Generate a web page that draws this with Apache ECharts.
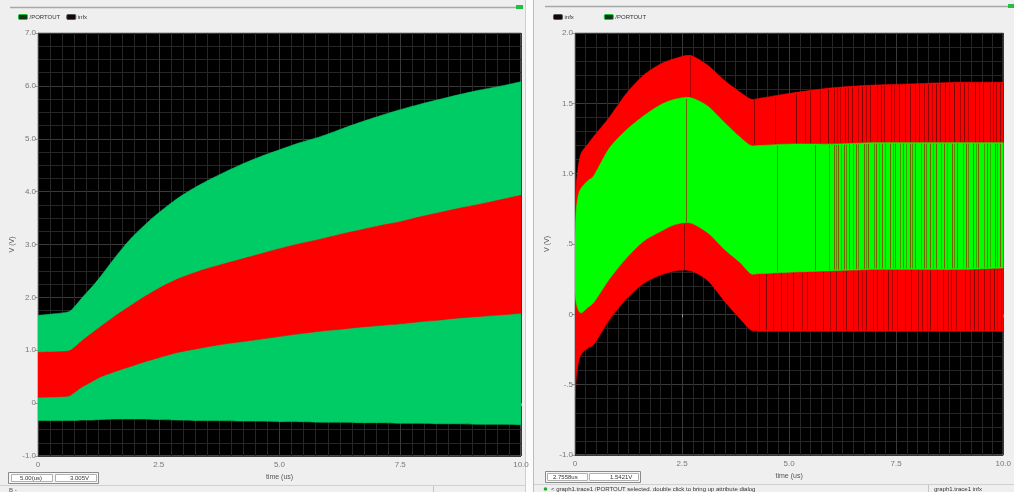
<!DOCTYPE html>
<html>
<head>
<meta charset="utf-8">
<script src="https://cdn.jsdelivr.net/npm/echarts@6/dist/echarts.min.js"></script>
<style>
  html, body { margin: 0; padding: 0; background: #efefef; }
  #chart { width: 1014px; height: 492px; }
</style>
</head>
<body>
<div id="chart"></div>
<script>
// ---- Left graph: /PORTOUT (green) and infx (red) envelopes, time in us ----
const timeA    = [0, 0.6, 0.75, 0.9, 1.1, 1.3, 1.6, 1.9, 2.2, 2.5, 2.9, 3.35, 3.8, 4.2, 4.6, 5.0, 5.4, 5.85, 6.3, 6.7, 7.1, 7.5, 7.9, 8.3, 8.7, 9.15, 9.6, 10];
const portHiA  = [1.66, 1.72, 1.82, 1.98, 2.18, 2.40, 2.76, 3.09, 3.36, 3.60, 3.88, 4.13, 4.34, 4.51, 4.66, 4.79, 4.92, 5.04, 5.19, 5.32, 5.44, 5.55, 5.65, 5.74, 5.83, 5.92, 6.00, 6.08];
const portLoA  = [-0.33, -0.33, -0.33, -0.32, -0.32, -0.31, -0.30, -0.30, -0.30, -0.31, -0.32, -0.33, -0.33, -0.34, -0.34, -0.35, -0.35, -0.36, -0.36, -0.37, -0.37, -0.38, -0.38, -0.39, -0.39, -0.40, -0.40, -0.41];
const infxHiA  = [0.96, 0.98, 1.05, 1.17, 1.31, 1.45, 1.65, 1.83, 2.01, 2.17, 2.35, 2.50, 2.62, 2.72, 2.82, 2.92, 3.01, 3.10, 3.20, 3.28, 3.36, 3.43, 3.52, 3.60, 3.68, 3.76, 3.85, 3.93];
const infxLoA  = [0.11, 0.13, 0.20, 0.30, 0.40, 0.50, 0.60, 0.69, 0.78, 0.86, 0.96, 1.04, 1.11, 1.16, 1.21, 1.26, 1.31, 1.36, 1.40, 1.44, 1.47, 1.50, 1.54, 1.57, 1.61, 1.64, 1.67, 1.70];

// ---- Right graph: infx (red, outer) and /PORTOUT (green, inner) envelopes ----
const timeB    = [0, 0.03, 0.08, 0.15, 0.3, 0.45, 0.8, 1.2, 1.6, 2.0, 2.35, 2.7, 3.1, 3.5, 3.85, 4.1, 4.3, 5, 6, 7, 8, 9, 10];
const infxHiB  = [0.70, 0.92, 1.06, 1.15, 1.21, 1.27, 1.40, 1.57, 1.70, 1.78, 1.82, 1.84, 1.77, 1.66, 1.58, 1.53, 1.535, 1.57, 1.61, 1.63, 1.64, 1.65, 1.65];
const portHiB  = [0.55, 0.74, 0.85, 0.90, 0.95, 0.99, 1.18, 1.31, 1.41, 1.49, 1.53, 1.54, 1.48, 1.36, 1.26, 1.20, 1.20, 1.21, 1.21, 1.22, 1.22, 1.22, 1.22];
const portLoB  = [0.15, 0.08, 0.03, 0.01, 0.05, 0.09, 0.25, 0.40, 0.52, 0.59, 0.64, 0.65, 0.58, 0.46, 0.37, 0.29, 0.29, 0.30, 0.31, 0.32, 0.32, 0.32, 0.33];
const infxLoB  = [-0.60, -0.45, -0.34, -0.28, -0.24, -0.21, -0.04, 0.11, 0.22, 0.28, 0.31, 0.31, 0.24, 0.09, -0.03, -0.11, -0.12, -0.12, -0.12, -0.12, -0.12, -0.12, -0.12];

// glitch times (us) seen as thin vertical streaks on the right graph
const upperGlitchT = [2.68, 4.17, 4.67, 5.16, 5.36, 5.48, 5.71, 5.90, 6.06, 6.13, 6.20, 6.30, 6.37, 6.48, 6.60, 6.71, 6.80, 6.90, 7.06, 7.14, 7.22, 7.37, 7.46, 7.56, 7.71, 7.83, 7.93, 8.03, 8.14, 8.24, 8.33, 8.43, 8.52, 8.64, 8.74, 8.84, 8.99, 9.08, 9.18, 9.33, 9.43, 9.53, 9.68, 9.76, 9.84, 9.92, 9.99];
const lowerGlitchT = [2.55, 4.30, 4.45, 4.62, 4.80, 4.95, 5.10, 5.30, 5.42, 5.60, 5.78, 5.95, 6.10, 6.25, 6.33, 6.50, 6.62, 6.70, 6.80, 6.95, 7.05, 7.20, 7.30, 7.40, 7.52, 7.70, 7.85, 8.00, 8.10, 8.22, 8.30, 8.45, 8.60, 8.70, 8.78, 8.90, 9.10, 9.22, 9.32, 9.40, 9.55, 9.70, 9.78, 9.85, 9.95];
const midGlitchT   = [2.60, 4.72, 5.60, 5.92, 6.05, 6.10, 6.15, 6.22, 6.28, 6.34, 6.40, 6.50, 6.56, 6.62, 6.75, 6.80, 6.85, 6.98, 7.04, 7.10, 7.18, 7.25, 7.35, 7.42, 7.48, 7.60, 7.66, 7.72, 7.82, 7.88, 7.95, 8.08, 8.14, 8.20, 8.30, 8.36, 8.42, 8.55, 8.62, 8.68, 8.80, 8.86, 8.92, 9.05, 9.12, 9.18, 9.30, 9.36, 9.42, 9.55, 9.62, 9.68, 9.80, 9.86, 9.92];

// axis tick labels
const xTicks  = [0, 2.5, 5, 7.5, 10];
const yTicksA = [-1, 0, 1, 2, 3, 4, 5, 6, 7];
const yTicksB = [-1, -0.5, 0, 0.5, 1, 1.5, 2];

const GREEN_A = '#00cc66';
const GREEN_B = '#00ff00';
const RED = '#ff0000';
const FONT = 'Liberation Sans, DejaVu Sans, sans-serif';

// edge value at time t, used to size glitch streaks inside a band
function edgeAt(ts, vs, t) {
  for (let i = 1; i < ts.length; i++) {
    if (t <= ts[i]) {
      const f = (t - ts[i - 1]) / (ts[i] - ts[i - 1]);
      return vs[i - 1] + f * (vs[i] - vs[i - 1]);
    }
  }
  return vs[vs.length - 1];
}

// cubic segments through pixel points (Catmull-Rom, softened), as SVG path commands
function curveCmds(pts, k) {
  let d = '';
  for (let i = 0; i < pts.length - 1; i++) {
    const p0 = pts[Math.max(i - 1, 0)], p1 = pts[i], p2 = pts[i + 1], p3 = pts[Math.min(i + 2, pts.length - 1)];
    const c1x = p1[0] + (p2[0] - p0[0]) * k / 6, c1y = p1[1] + (p2[1] - p0[1]) * k / 6;
    const c2x = p2[0] - (p3[0] - p1[0]) * k / 6, c2y = p2[1] - (p3[1] - p1[1]) * k / 6;
    d += ` C${c1x.toFixed(2)},${c1y.toFixed(2)} ${c2x.toFixed(2)},${c2y.toFixed(2)} ${p2[0].toFixed(2)},${p2[1].toFixed(2)}`;
  }
  return d;
}

// filled band between lo and hi, one path built from every sample
function band(grid, ts, lo, hi, name, color, z) {
  return {
    type: 'custom', name, xAxisIndex: grid, yAxisIndex: grid, z, silent: true,
    animation: false, clip: true,
    data: ts.map((t, i) => [t, lo[i], hi[i]]),
    encode: { x: 0, y: [1, 2] },
    renderItem(params, api) {
      if (params.dataIndexInside !== 0) return null;
      const n = params.dataInsideLength;
      const top = [], bottom = [];
      for (let j = 0; j < n; j++) {
        const t = api.value(0, j);
        top.push(api.coord([t, api.value(2, j)]));
        bottom.push(api.coord([t, api.value(1, j)]));
      }
      bottom.reverse();
      const d = `M${top[0][0]},${top[0][1]}` + curveCmds(top, 0.8) +
        ` L${bottom[0][0]},${bottom[0][1]}` + curveCmds(bottom, 0.8) + ' Z';
      return {
        type: 'path',
        shape: { pathData: d },
        style: { fill: color, stroke: color, lineWidth: 0.6 }
      };
    }
  };
}

function streaks(grid, name, times, loArr, hiArr, colors, z) {
  return {
    type: 'custom', name, xAxisIndex: grid, yAxisIndex: grid, silent: true, z,
    animation: false,
    data: times.map(t => [t, edgeAt(timeB, loArr, t), edgeAt(timeB, hiArr, t)]),
    encode: { x: 0, y: [1, 2] },
    renderItem(params, api) {
      const p0 = api.coord([api.value(0), api.value(1)]);
      const p1 = api.coord([api.value(0), api.value(2)]);
      const x = Math.round(p0[0]) + 0.5;
      return {
        type: 'line',
        shape: { x1: x, y1: p0[1] - 1, x2: x, y2: p1[1] + 1 },
        style: { stroke: colors[params.dataIndex % colors.length], lineWidth: 1 }
      };
    }
  };
}

const fmtX = v => (v === 0 ? '0' : v.toFixed(1));
const fmtYA = v => (v === 0 ? '0' : v.toFixed(1));
const fmtYB = v => {
  if (v === 0) return '0';
  if (Math.abs(v) < 1) return (v < 0 ? '-' : '') + '.' + Math.round(Math.abs(v) * 10);
  return v.toFixed(1);
};

function xAxisFor(grid) {
  return {
    gridIndex: grid, type: 'value', min: xTicks[0], max: xTicks[xTicks.length - 1],
    interval: xTicks[1] - xTicks[0],
    name: 'time (us)', nameLocation: 'middle', nameGap: 17,
    nameTextStyle: { fontSize: 7, color: '#555', fontFamily: FONT },
    axisLine: { show: false },
    axisTick: { show: true, length: 3, lineStyle: { color: '#999' } },
    axisLabel: { fontSize: 8, color: '#777', margin: 5, formatter: fmtX, fontFamily: FONT },
    splitLine: { show: true, lineStyle: { color: '#3a3a3a', width: 1 } },
    minorTick: { show: false, splitNumber: 10 },
    minorSplitLine: { show: true, lineStyle: { color: '#262626', width: 1 } }
  };
}

function yAxisFor(grid, ticks, fmt, minorSplit, gap) {
  return {
    gridIndex: grid, type: 'value', min: ticks[0], max: ticks[ticks.length - 1],
    interval: ticks[1] - ticks[0],
    name: 'V (V)', nameLocation: 'middle', nameGap: gap, nameRotate: 90,
    nameTextStyle: { fontSize: 7, color: '#555', fontFamily: FONT },
    axisLine: { show: false },
    axisTick: { show: true, length: 3, lineStyle: { color: '#999' } },
    axisLabel: { fontSize: 8, color: '#777', margin: 2, formatter: fmt, fontFamily: FONT },
    splitLine: { show: true, lineStyle: { color: '#3a3a3a', width: 1 } },
    minorTick: { show: false, splitNumber: minorSplit },
    minorSplitLine: { show: true, lineStyle: { color: '#262626', width: 1 } }
  };
}

const smallText = (x, y, text, opts) => ({
  type: 'text', x, y, silent: true,
  style: Object.assign({ text, fill: '#333', font: '6px ' + FONT, textVerticalAlign: 'middle' }, opts || {})
});

const chrome = [
  // gap between the two graph windows
  { type: 'rect', shape: { x: 525, y: 0, width: 8, height: 492 }, style: { fill: '#fbfbfb' }, silent: true },
  { type: 'line', shape: { x1: 525.5, y1: 0, x2: 525.5, y2: 492 }, style: { stroke: '#cfcfcf' }, silent: true },
  { type: 'line', shape: { x1: 533.5, y1: 0, x2: 533.5, y2: 492 }, style: { stroke: '#bdbdbd' }, silent: true },
  // window top rulers
  { type: 'line', shape: { x1: 10, y1: 7.5, x2: 520, y2: 7.5 }, style: { stroke: '#a8a8a8', lineWidth: 1.5 }, silent: true },
  { type: 'rect', shape: { x: 516, y: 5, width: 7, height: 4 }, style: { fill: '#22c040' }, silent: true },
  { type: 'line', shape: { x1: 545, y1: 6.5, x2: 1008, y2: 6.5 }, style: { stroke: '#a8a8a8', lineWidth: 1.5 }, silent: true },
  { type: 'rect', shape: { x: 1008, y: 4, width: 6, height: 4 }, style: { fill: '#22c040' }, silent: true },
  // cursor readouts, left window
  { type: 'rect', shape: { x: 8.5, y: 472.5, width: 90, height: 11 }, style: { fill: '#f7f7f7', stroke: '#8a8a8a' }, silent: true },
  { type: 'rect', shape: { x: 11.5, y: 474.5, width: 41, height: 7 }, style: { fill: '#fff', stroke: '#b0b0b0' }, silent: true },
  { type: 'rect', shape: { x: 55.5, y: 474.5, width: 41, height: 7 }, style: { fill: '#fff', stroke: '#b0b0b0' }, silent: true },
  smallText(20, 478, '5.00(us)'),
  smallText(70, 478, '3.005V'),
  { type: 'line', shape: { x1: 0, y1: 485.5, x2: 525, y2: 485.5 }, style: { stroke: '#d0d0d0' }, silent: true },
  { type: 'line', shape: { x1: 433.5, y1: 486, x2: 433.5, y2: 492 }, style: { stroke: '#c4c4c4' }, silent: true },
  smallText(9, 490, 'B -', { fill: '#555' }),
  // cursor readouts, right window
  { type: 'rect', shape: { x: 545.5, y: 471.5, width: 95, height: 11 }, style: { fill: '#f7f7f7', stroke: '#8a8a8a' }, silent: true },
  { type: 'rect', shape: { x: 547.5, y: 473.5, width: 40, height: 7 }, style: { fill: '#fff', stroke: '#b0b0b0' }, silent: true },
  { type: 'rect', shape: { x: 589.5, y: 473.5, width: 49, height: 7 }, style: { fill: '#fff', stroke: '#b0b0b0' }, silent: true },
  smallText(553, 477, '2.7558us'),
  smallText(610, 477, '1.5421V'),
  // status bar, right window
  { type: 'line', shape: { x1: 534, y1: 484.5, x2: 1014, y2: 484.5 }, style: { stroke: '#d0d0d0' }, silent: true },
  { type: 'circle', shape: { cx: 545.5, cy: 489, r: 1.8 }, style: { fill: '#18b030' }, silent: true },
  smallText(551, 489, '< graph1.trace1 /PORTOUT selected. double click to bring up attribute dialog'),
  { type: 'line', shape: { x1: 928.5, y1: 485, x2: 928.5, y2: 492 }, style: { stroke: '#c4c4c4' }, silent: true },
  smallText(934, 489, 'graph1.trace1 infx')
];

const legendBase = {
  orient: 'horizontal', top: 14, itemWidth: 9, itemHeight: 5, selectedMode: false,
  textStyle: { fontSize: 6, color: '#333', fontFamily: FONT, padding: [0, 0, 0, -3] },
  padding: 0
};
const swatchPort = { name: '/PORTOUT', icon: 'roundRect', itemStyle: { color: '#0a3a14', borderColor: '#20c040', borderWidth: 1 } };
const swatchInfx = { name: 'infx', icon: 'roundRect', itemStyle: { color: '#120808', borderColor: '#555', borderWidth: 1 } };

const option = {
  backgroundColor: '#efefef',
  animation: false,
  textStyle: { fontFamily: FONT },
  legend: [
    Object.assign({}, legendBase, { left: 18, itemGap: 6, data: [swatchPort, swatchInfx] }),
    Object.assign({}, legendBase, { left: 553, itemGap: 30, data: [swatchInfx, swatchPort] })
  ],
  grid: [
    { left: 38, top: 33, width: 483, height: 423, show: true, backgroundColor: '#000', borderColor: '#8c8c8c', borderWidth: 1 },
    { left: 575, top: 33, width: 436, height: 422, show: true, backgroundColor: '#000', borderColor: '#8c8c8c', borderWidth: 1 }
  ],
  xAxis: [xAxisFor(0), xAxisFor(1)],
  yAxis: [
    yAxisFor(0, yTicksA, fmtYA, 4, 22),
    yAxisFor(1, yTicksB, fmtYB, 5, 24)
  ],
  graphic: chrome,
  series: [
    // left: green outer band, red inner band
    band(0, timeA, portLoA, portHiA, '/PORTOUT', GREEN_A, 2),
    band(0, timeA, infxLoA, infxHiA, 'infx', RED, 3),
    // right: red outer band, glitch streaks, green inner band
    band(1, timeB, infxLoB, infxHiB, 'infx', RED, 2),
    streaks(1, 'infx', upperGlitchT, portHiB, infxHiB, ['#a80000', '#8c0000', '#c00000', '#7a0000'], 3),
    streaks(1, 'infx', lowerGlitchT, infxLoB, portLoB, ['#9a0000', '#c00000', '#850000', '#b00000'], 3),
    band(1, timeB, portLoB, portHiB, '/PORTOUT', GREEN_B, 4),
    streaks(1, '/PORTOUT', midGlitchT, portLoB, portHiB, ['rgba(150,50,0,0.75)', 'rgba(130,70,0,0.6)', 'rgba(170,30,0,0.7)', 'rgba(110,80,0,0.5)'], 5)
  ]
};

const chart = echarts.init(document.getElementById('chart'), null, { renderer: 'canvas' });
chart.setOption(option);
</script>
</body>
</html>
